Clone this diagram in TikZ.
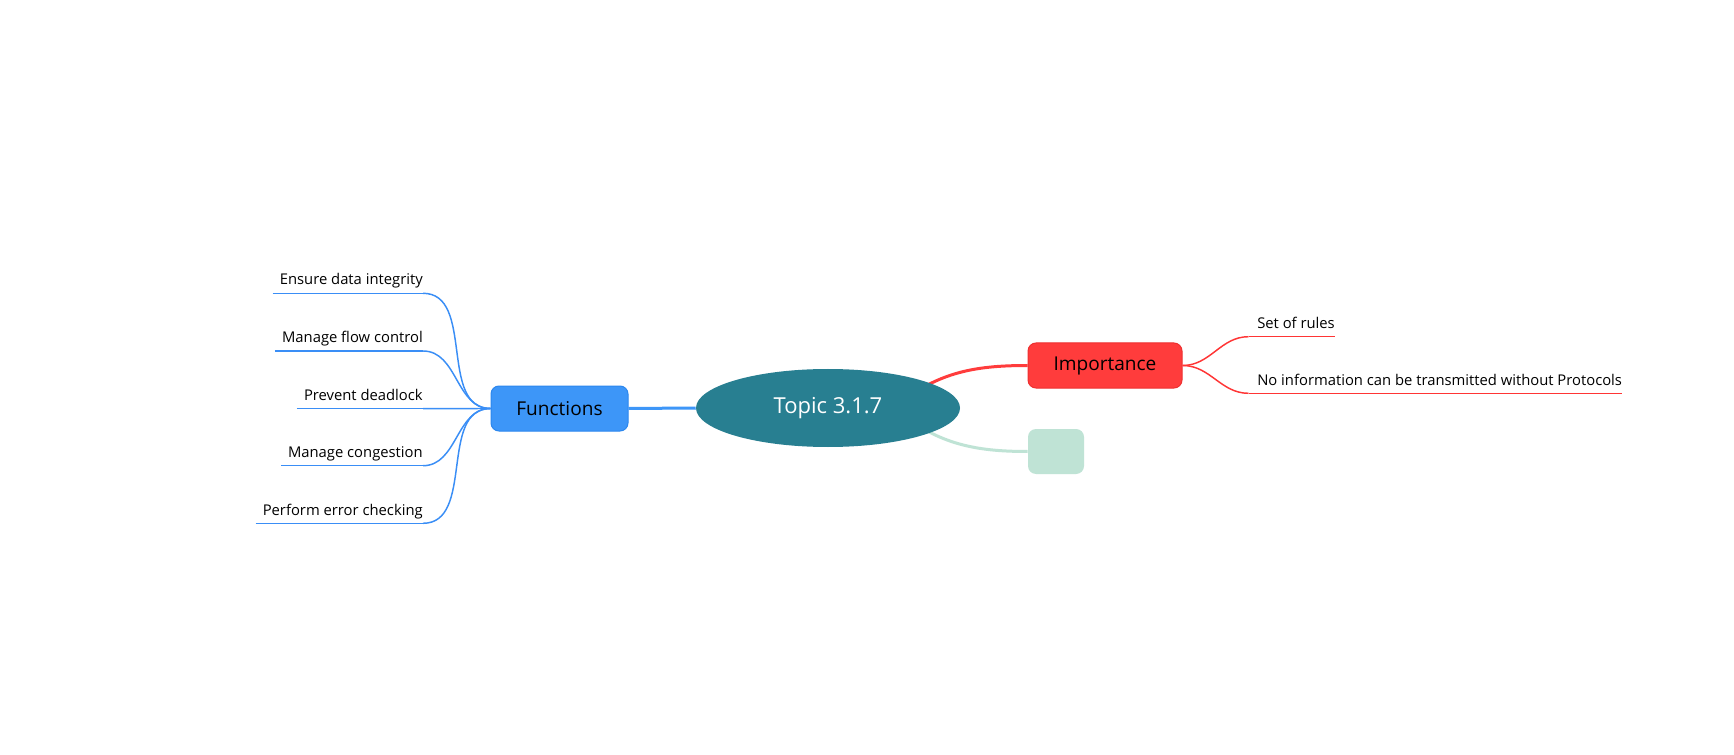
\documentclass[tikz,border=0pt]{standalone}
\usepackage{fontspec}
\setmainfont{Open Sans}
\usetikzlibrary{calc}
\usetikzlibrary{shapes.geometric,backgrounds}
\usepackage{xcolor}
\definecolor{topicteal}{HTML}{287F91}
\definecolor{funcblue}{HTML}{3D96F8}
\definecolor{funcedge}{HTML}{2C87EE}
\definecolor{leafblue}{HTML}{3A8EF6}
\definecolor{impred}{HTML}{FF3C3C}
\definecolor{impedge}{HTML}{EE3030}
\definecolor{leafred}{HTML}{FF3535}
\definecolor{sidegreen}{HTML}{BFE3D5}

\begin{document}
\begin{tikzpicture}[x=.75pt,y=-.75pt,
  leaf/.style={inner sep=0, font=\fontsize{11.1}{13}\selectfont},
  branch/.style={rounded corners=6pt, minimum height=33.75pt, font=\fontsize{14.3}{16}\selectfont, line width=.75pt},
  bline/.style={leafblue, line width=1.1pt},
  rline/.style={leafred, line width=1.1pt}]
\useasboundingbox (0,0) rectangle (1734,755);
\node[ellipse, fill=topicteal, minimum width=198pt, minimum height=58.5pt, text=white, font=\fontsize{16.5}{18}\selectfont] (topic) at (828,408) {Topic 3.1.7};
\coordinate (hub) at ($(topic.center)+(66,0)$);
\node[branch, fill=funcblue, draw=funcedge, minimum width=102.75pt] (func) at (559.5,408.5) {Functions};
\node[branch, fill=impred, draw=impedge, minimum width=115.5pt] (imp) at (1105,365.5) {Importance};
\node[branch, fill=sidegreen, minimum width=42pt] (side) at (1056,451.5) {};
% functions leaves
\foreach \y/\n/\t in {285/ensure/Ensure data integrity, 342.7/flow/Manage flow control, 400.4/deadlock/Prevent deadlock, 457.4/congest/Manage congestion, 515/error/Perform error checking}{
 \node[leaf, anchor=base east] (\n) at (423,\y) {\t};
 \draw[bline] ($(\n.base west)+(-7,8.3)$) coordinate (\n l) -- ($(\n.base east)+(0,8.3)$) coordinate (\n r);
 \draw[bline] (func.west) to[out=180,in=0] (\n r);
}
% importance leaves
\foreach \y/\n/\t in {328.4/rules/Set of rules, 385/noinfo/No information can be transmitted without Protocols}{
 \node[leaf, anchor=base west] (\n) at (1257,\y) {\t};
 \draw[rline] ($(\n.base west)+(-8.5,8.3)$) coordinate (\n l) -- ($(\n.base east)+(0,8.3)$) coordinate (\n r);
 \draw[rline] (imp.east) to[out=0,in=180] (\n l);
}
\begin{scope}[on background layer]
\fill[white] (0,0) rectangle (1734,755);
\draw[funcblue, line width=2.25pt] (func.east) -- (topic.west);
\draw[impred, line width=2.25pt] (hub) to[out=40,in=180] (imp.west);
\draw[sidegreen, line width=2.25pt] (hub) to[out=-40,in=180] (side.west);
\end{scope}
\end{tikzpicture}
\end{document}
